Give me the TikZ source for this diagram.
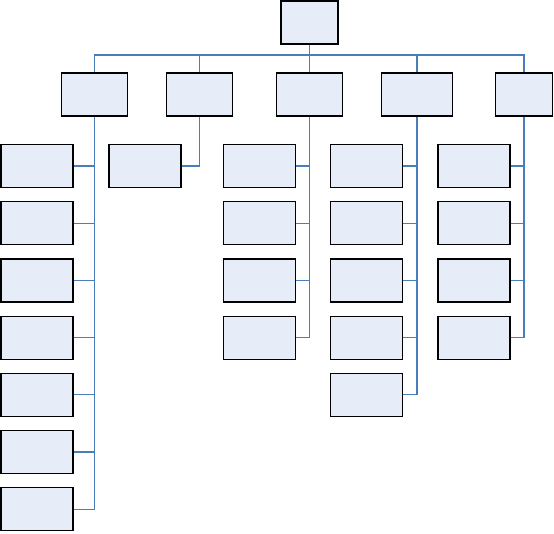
\documentclass[tikz,border=0pt]{standalone}
\usepackage{tikz}
\usetikzlibrary{positioning, calc}
\tikzset{every node/.style={font=\sffamily}}
\usepackage{xcolor}
\definecolor{boxfill}{HTML}{E6EDF8}
\definecolor{linkblue}{HTML}{4A7EBB}

\begin{document}
\begin{tikzpicture}[x=1pt, y=-1pt,
    box/.style={draw=black, fill=boxfill, line width=1.2pt, minimum width=72pt, minimum height=43pt, inner sep=0pt},
    link/.style={draw=linkblue, line width=1.2pt}]
        \useasboundingbox (0,0) rectangle (554,533);
        % top and first level
        \node[box, minimum width=57pt] (root) at (309.5,22.5) {};
        \node[box, minimum width=66pt] (a) at (94.5,94.5) {};
        \node[box, minimum width=66pt] (b) at (199.5,94.5) {};
        \node[box, minimum width=66pt] (c) at (309.5,94.5) {};
        \node[box, minimum width=71pt] (d) at (417,94.5) {};
        \node[box, minimum width=57pt] (e) at (524,94.5) {};
        \coordinate (bus) at (309.5,55);
        \draw[link] (root.south) -- (c.north);
        \draw[link] (a.north) -- (a.north |- bus) -- (e.north |- bus) -- (e.north);
        \foreach \n in {b,d}
          \draw[link] (\n.north) -- (\n.north |- bus);
        % second level
        \foreach \n/\x/\k in {a/37/7, b/145/1, c/259.5/4, d/366.5/5, e/474/4} {
          \foreach \i in {1,...,\k}
            \node[box] (\n\i) at (\x,{166+57.2*(\i-1)}) {};
          \draw[link] (\n.south) |- (\n\k.east);
          \foreach \i in {1,...,\k}
            \draw[link] (\n\i.east) -- (\n\i.east -| \n.south);
        }
      \end{tikzpicture}
\end{document}
